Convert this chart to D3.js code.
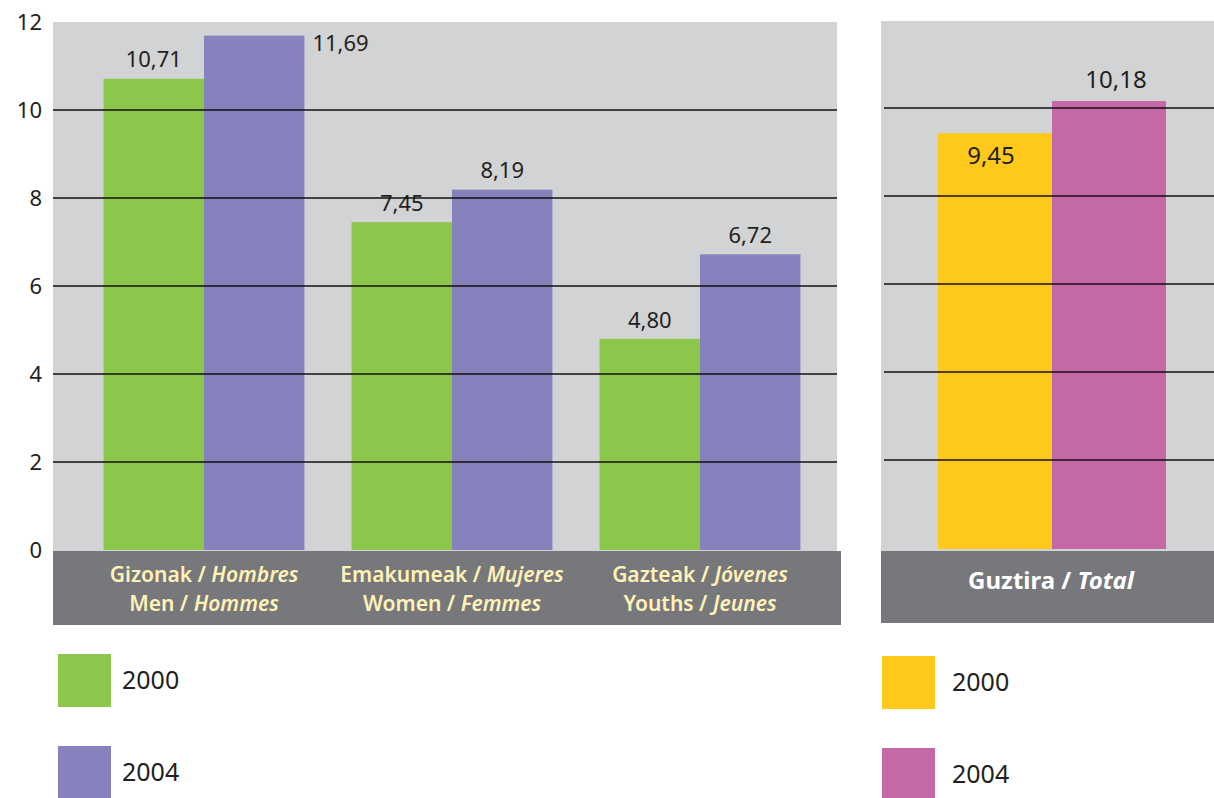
<!DOCTYPE html>
<html>
<head>
<meta charset="utf-8">
<script src="https://cdn.jsdelivr.net/npm/d3@7"></script>
<style>
  body { margin: 0; background: #fff; }
  text { font-family: "Noto Sans", sans-serif; }
</style>
</head>
<body>
<script>
// data
var catEu = ["Gizonak", "Emakumeak", "Gazteak"];
var catEs = ["Hombres", "Mujeres", "Jóvenes"];
var catEn = ["Men", "Women", "Youths"];
var catFr = ["Hommes", "Femmes", "Jeunes"];
var years = ["2000", "2004"];
var values2000 = [10.71, 7.45, 4.80];
var values2004 = [11.69, 8.19, 6.72];
var totalLabelEu = "Guztira", totalLabelEs = "Total";
var totals = [9.45, 10.18];
var yTicks = [0, 2, 4, 6, 8, 10, 12];

var W = 1214, H = 798;
var colGroup = ["#8cc64a", "#8781bd"];
var colTotal = ["#ffc91b", "#c569a6"];
var bg = "#d1d3d4", band = "#77787b", ink = "#231f20";
var fmt = function(v){ return d3.format(".2f")(v).replace(".", ","); };

var svg = d3.select("body").append("svg")
    .attr("width", W).attr("height", H);

// left panel
var yL = d3.scaleLinear().domain([0, 12]).range([550, 22]);
var x0 = d3.scaleBand().domain(catEu).range([80, 824]).paddingInner(0.19).paddingOuter(0.095);
var x1 = d3.scaleBand().domain(years).range([0, x0.bandwidth()]);

svg.append("rect").attr("x", 53).attr("y", 22).attr("width", 784).attr("height", 529).attr("fill", bg);

var rows = catEu.map(function(c, i){ return {cat: c, vals: [values2000[i], values2004[i]]}; });

var g = svg.append("g");
rows.forEach(function(r){
    r.vals.forEach(function(v, j){
        var bx = x0(r.cat) + x1(years[j]);
        g.append("rect")
            .attr("x", bx).attr("y", yL(v))
            .attr("width", x1.bandwidth()).attr("height", yL(0) - yL(v))
            .attr("fill", colGroup[j]);
        var t = g.append("text")
            .attr("font-size", 22).attr("fill", ink).text(fmt(v));
        if (yL(v) - 30 < 22) {
            // no room above: put it beside the bar
            t.attr("x", bx + x1.bandwidth() + 8).attr("y", yL(v) + 8).attr("dy", "0.35em");
        } else {
            t.attr("x", bx + x1.bandwidth()/2).attr("y", yL(v) - 19).attr("dy", "0.35em")
             .attr("text-anchor", "middle");
        }
    });
});

// gridlines over the bars
svg.append("g").selectAll("line")
    .data(yTicks.filter(function(d){ return d > 0 && d < 12; }))
    .join("line")
    .attr("x1", 53).attr("x2", 837)
    .attr("y1", function(d){ return yL(d); }).attr("y2", function(d){ return yL(d); })
    .attr("stroke", "#111").attr("stroke-width", 1.3);

// y tick labels
svg.append("g").selectAll("text")
    .data(yTicks).join("text")
    .attr("x", 42).attr("y", function(d){ return yL(d); }).attr("dy", "0.35em")
    .attr("text-anchor", "end").attr("font-size", 22).attr("fill", ink)
    .text(function(d){ return d; });

// category band
svg.append("rect").attr("x", 53).attr("y", 551).attr("width", 788).attr("height", 74).attr("fill", band);
var lab = svg.append("g").attr("fill", "#fff2b8").attr("font-size", 21).attr("font-weight", 600)
    .attr("text-anchor", "middle");
catEu.forEach(function(c, i){
    var cx = x0(c) + x0.bandwidth()/2;
    var t1 = lab.append("text").attr("x", cx).attr("y", 575).attr("dy", "0.35em");
    t1.append("tspan").text(c + " / ");
    t1.append("tspan").attr("font-style", "italic").text(catEs[i]);
    var t2 = lab.append("text").attr("x", cx).attr("y", 604).attr("dy", "0.35em");
    t2.append("tspan").text(catEn[i] + " / ");
    t2.append("tspan").attr("font-style", "italic").text(catFr[i]);
});

// right panel
var yR = d3.scaleLinear().domain([0, 12]).range([549, 21]);
var xR = d3.scaleBand().domain(years).range([938, 1166]);

svg.append("rect").attr("x", 881).attr("y", 21).attr("width", W - 881).attr("height", 530).attr("fill", bg);

totals.forEach(function(v, j){
    var bx = xR(years[j]);
    svg.append("rect")
        .attr("x", bx).attr("y", yR(v))
        .attr("width", xR.bandwidth()).attr("height", yR(0) - yR(v))
        .attr("fill", colTotal[j]);
    // 2000 label sits inside the bar top in the original
    var ly = j === 0 ? yR(v) + 22 : yR(v) - 21;
    var lx = bx + xR.bandwidth()/2 + (j === 0 ? -4 : 7);
    svg.append("text")
        .attr("x", lx).attr("y", ly).attr("dy", "0.35em")
        .attr("text-anchor", "middle").attr("font-size", 24).attr("fill", ink)
        .text(fmt(v));
});

svg.append("g").selectAll("line")
    .data(yTicks.filter(function(d){ return d > 0 && d < 12; }))
    .join("line")
    .attr("x1", 884).attr("x2", W)
    .attr("y1", function(d){ return yR(d) - 1; }).attr("y2", function(d){ return yR(d) - 1; })
    .attr("stroke", "#111").attr("stroke-width", 1.3);

svg.append("rect").attr("x", 881).attr("y", 551).attr("width", W - 881).attr("height", 72).attr("fill", band);
var tt = svg.append("text").attr("x", 1051).attr("y", 581).attr("dy", "0.35em")
    .attr("text-anchor", "middle").attr("font-size", 24).attr("font-weight", 700).attr("fill", "#fff");
tt.append("tspan").text(totalLabelEu + " / ");
tt.append("tspan").attr("font-style", "italic").text(totalLabelEs);

// legends
function legend(x, y, cols, tx){
    years.forEach(function(yr, i){
        var yy = y + i * 92;
        svg.append("rect").attr("x", x).attr("y", yy).attr("width", 53).attr("height", 53).attr("fill", cols[i]);
        svg.append("text").attr("x", tx).attr("y", yy + 26).attr("dy", "0.35em")
            .attr("font-size", 25).attr("fill", ink).text(yr);
    });
}
legend(58, 654, colGroup, 122);
legend(882, 656, colTotal, 952);
</script>
</body>
</html>
